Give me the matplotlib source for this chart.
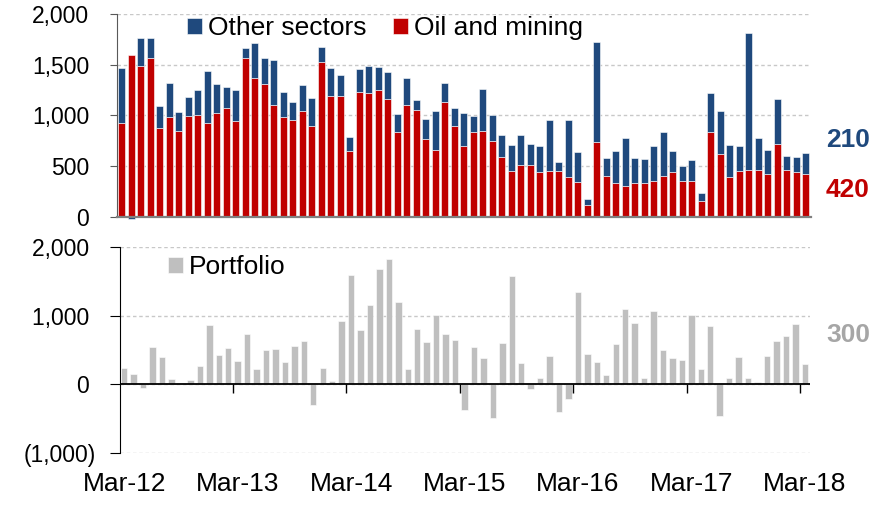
import numpy as np
import pandas as pd
import matplotlib
matplotlib.use("Agg")
import matplotlib.pyplot as plt

plt.rcParams['font.family'] = ['Liberation Sans', 'DejaVu Sans']

# monthly categories Mar-12 .. Mar-18
months = pd.date_range('2012-03-01', '2018-03-01', freq='MS')
month_labels = [m.strftime('%b-%y') for m in months]

oil = [930, 1600, 1487, 1562, 878, 983, 852, 997, 1003, 927, 1023, 1075, 941, 1569, 1372, 1312,
       1105, 987, 951, 1049, 901, 1523, 1197, 1191, 648,
       1233, 1224, 1256, 1164, 839, 1102, 1059, 773, 661, 1135, 898, 701, 839, 849, 750, 595,
       454, 510, 516, 447, 457, 451, 391, 345, 118,
       740, 408, 335, 309, 335, 335, 358, 408, 447, 355, 358, 161, 842, 618, 391, 454, 464, 464,
       424, 720, 467, 444, 420]
other = [540, -15, 279, 204, 214, 342, 187, 190, 247, 510, 289, 201, 306, 92, 338, 250,
         444, 246, 184, 250, 273, 148, 267, 207, 141,
         221, 259, 221, 267, 171, 266, 92, 197, 382, 190, 174, 319, 154, 414, 256, 214,
         256, 299, 208, 257, 497, 95, 560, 293, 60,
         987, 174, 316, 471, 250, 237, 339, 431, 208, 151, 204, 73, 382, 428, 323, 250, 1352, 316,
         234, 441, 132, 145, 210]
portfolio = [233, 146, -49, 539, 398, 73, 0, 68, 262, 864, 432, 529, 340, 728, 223, 495,
             510, 320, 553, 626, -306, 233, 49, 927, 1597,
             796, 1150, 1680, 1825, 1194, 223, 806, 612, 1014, 738, 646, -369, 539, 383, -490, 597,
             1573, 316, -63, 92, 413, -403, -209, 1340, 437,
             320, 136, 582, 1097, 888, 92, 1068, 495, 379, 354, 1010, 218, 854, -461, 87, 398, 87, 34,
             413, 636, 704, 883, 300]

blue = '#1F497D'
red = '#C00000'
gray = '#BFBFBF'

W, H = 885, 505
fig = plt.figure(figsize=(W / 100, H / 100), dpi=100)
ax1 = fig.add_axes([117 / W, 1 - 217 / H, (810.5 - 117) / W, (217 - 14) / H])
ax2 = fig.add_axes([119.5 / W, 1 - 453 / H, (809.5 - 119.5) / W, (453 - 247) / H])

x = np.arange(len(months))
oil_a = np.array(oil)
other_a = np.array(other)
bottom_other = np.where(other_a >= 0, oil_a, 0)

b_oil = ax1.bar(x, oil_a, width=0.74, color=red, edgecolor='white', linewidth=0.4,
                label='Oil and mining', zorder=3)
b_other = ax1.bar(x, other_a, bottom=bottom_other, width=0.74, color=blue, edgecolor='white',
                  linewidth=0.4, label='Other sectors', zorder=3, clip_on=False)
b_port = ax2.bar(x, portfolio, width=0.68, color=gray, edgecolor='white', linewidth=0.4,
                 label='Portfolio', zorder=3)


def fmt(v, pos=None):
    if v < 0:
        return '({:,.0f})'.format(-v)
    return '{:,.0f} '.format(v)


grid_kw = dict(color='#C8C8C8', linestyle=(0, (2.5, 2)), linewidth=1)

# top panel
ax1.set_xlim(-0.5, len(x) - 0.5)
ax1.set_ylim(0, 2000)
ax1.set_yticks([0, 500, 1000, 1500, 2000])
ax1.yaxis.set_major_formatter(plt.FuncFormatter(lambda v, p: '{:,.0f}'.format(v)))
ax1.set_xticks([])
ax1.yaxis.grid(True, **grid_kw)
ax1.set_axisbelow(True)
for s in ['top', 'right']:
    ax1.spines[s].set_visible(False)
ax1.spines['left'].set_color('#595959')
ax1.spines['bottom'].set_color('#808080')
ax1.spines['bottom'].set_linewidth(1.6)
ax1.spines['bottom'].set_zorder(4)
ax1.tick_params(axis='y', direction='out', length=5, color='#595959', labelsize=16.5, pad=15)

# bottom panel
ax2.set_xlim(-0.5, len(x) - 0.5)
ax2.set_ylim(-1000, 2000)
ax2.set_yticks([-1000, 0, 1000, 2000])
ax2.yaxis.set_major_formatter(plt.FuncFormatter(fmt))
ax2.yaxis.grid(True, **grid_kw)
ax2.set_axisbelow(True)
for s in ['top', 'right', 'bottom']:
    ax2.spines[s].set_visible(False)
ax2.spines['left'].set_color('black')
ax2.tick_params(axis='y', direction='out', length=7, color='black', labelsize=16.5, pad=10)
ax2.axhline(0, color='black', linewidth=1.3, zorder=4)
ax2.vlines(np.arange(11.5, len(x), 12), -120, 0, color='black', linewidth=1, zorder=4)
ax2.set_xticks(x[::12])
ax2.set_xticklabels(month_labels[::12])
ax2.tick_params(axis='x', length=0, labelsize=19, pad=14)

# legends
fig.legend(handles=[b_other, b_oil], loc='center left', bbox_to_anchor=(187 / W, 1 - 28 / H),
           ncol=2, frameon=False, fontsize=19, handlelength=0.55, handleheight=0.55,
           handletextpad=0.25, columnspacing=1.0, borderpad=0, borderaxespad=0)
fig.legend(handles=[b_port], loc='center left', bbox_to_anchor=(168 / W, 1 - 267 / H),
           frameon=False, fontsize=19, handlelength=0.55, handleheight=0.55,
           handletextpad=0.25, borderpad=0, borderaxespad=0)

# latest values
fig.text(848 / W, 1 - 140 / H, str(other[-1]), color=blue, fontsize=19, fontweight='bold',
         ha='center', va='center')
fig.text(848 / W, 1 - 190 / H, str(oil[-1]), color=red, fontsize=19, fontweight='bold',
         ha='center', va='center')
fig.text(848 / W, 1 - 335 / H, str(portfolio[-1]), color='#A6A6A6', fontsize=19,
         fontweight='bold', ha='center', va='center')

fig.savefig('out.png', dpi=100)
